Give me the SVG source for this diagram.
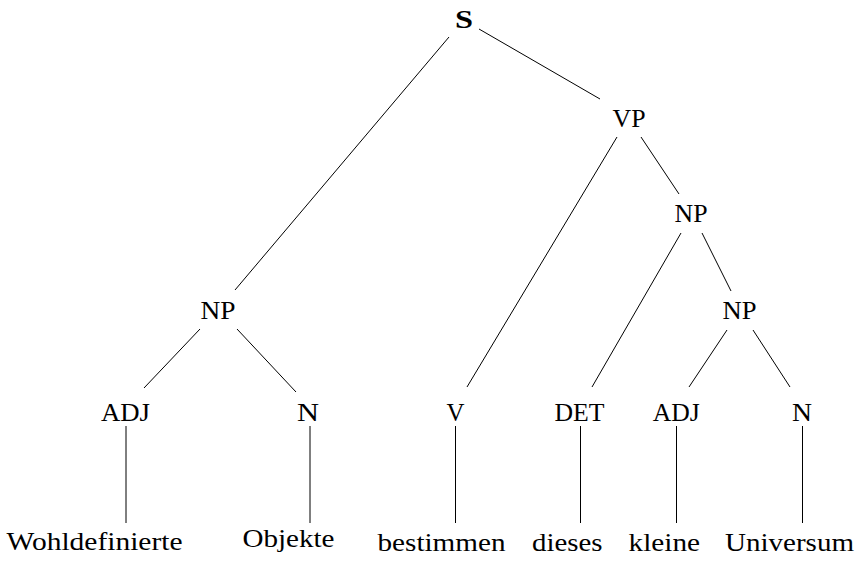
<svg xmlns="http://www.w3.org/2000/svg" width="858" height="561" viewBox="0 0 858 561" font-family="'Liberation Serif', 'Times New Roman', Times, serif">
  <style>
    text { font-family: 'Liberation Serif', 'Times New Roman', Times, serif; font-size: 26px; fill: #000; }
    .cat { text-anchor: middle; }
    .root { font-weight: bold; font-size: 26px; }
    .leaf { text-anchor: start; }
    #edges line { stroke: #000; stroke-width: 1; }
  </style>
  <rect width="858" height="561" fill="#fff"/>

  <!-- tree edges -->
  <g id="edges">
    <line x1="449" y1="37" x2="235" y2="290"/>
    <line x1="479" y1="29" x2="600" y2="99"/>
    <line x1="617" y1="137" x2="467" y2="387"/>
    <line x1="641" y1="137" x2="679" y2="194"/>
    <line x1="681" y1="233" x2="592" y2="387"/>
    <line x1="702" y1="233" x2="731" y2="291"/>
    <line x1="727" y1="330" x2="689" y2="387"/>
    <line x1="753" y1="330" x2="790" y2="387"/>
    <line x1="200" y1="329" x2="144" y2="388"/>
    <line x1="237" y1="329" x2="296" y2="392"/>
    <line x1="126" y1="426" x2="126" y2="523"/>
    <line x1="310" y1="426" x2="310" y2="523"/>
    <line x1="455.5" y1="426" x2="455.5" y2="523"/>
    <line x1="580.5" y1="426" x2="580.5" y2="523"/>
    <line x1="676.5" y1="426" x2="676.5" y2="523"/>
    <line x1="802.5" y1="426" x2="802.5" y2="523"/>
  </g>

  <!-- category nodes -->
  <g id="s"><text class="cat root" x="464" y="28" textLength="18" lengthAdjust="spacingAndGlyphs">S</text></g>
  <g id="vp"><text class="cat" x="629" y="126.5" textLength="33" lengthAdjust="spacingAndGlyphs">VP</text></g>
  <g id="np-obj"><text class="cat" x="691" y="222" textLength="33" lengthAdjust="spacingAndGlyphs">NP</text></g>
  <g id="np-inner"><text class="cat" x="739.5" y="319" textLength="34" lengthAdjust="spacingAndGlyphs">NP</text></g>
  <g id="np-subj"><text class="cat" x="218" y="319" textLength="35" lengthAdjust="spacingAndGlyphs">NP</text></g>
  <g id="adj-1"><text class="cat" x="125.5" y="421" textLength="49" lengthAdjust="spacingAndGlyphs">ADJ</text></g>
  <g id="n-1"><text class="cat" x="308" y="421" textLength="22" lengthAdjust="spacingAndGlyphs">N</text></g>
  <g id="v"><text class="cat" x="455.5" y="421" textLength="18" lengthAdjust="spacingAndGlyphs">V</text></g>
  <g id="det"><text class="cat" x="579.5" y="421" textLength="50" lengthAdjust="spacingAndGlyphs">DET</text></g>
  <g id="adj-2"><text class="cat" x="676.3" y="421" textLength="47" lengthAdjust="spacingAndGlyphs">ADJ</text></g>
  <g id="n-2"><text class="cat" x="802" y="421" textLength="20" lengthAdjust="spacingAndGlyphs">N</text></g>

  <!-- words -->
  <g id="w-wohldefinierte"><text class="leaf" x="6.5" y="550" textLength="176" lengthAdjust="spacingAndGlyphs">Wohldefinierte</text></g>
  <g id="w-objekte"><text class="leaf" x="242.5" y="547" textLength="92" lengthAdjust="spacingAndGlyphs">Objekte</text></g>
  <g id="w-bestimmen"><text class="leaf" x="377.5" y="550.5" textLength="128" lengthAdjust="spacingAndGlyphs">bestimmen</text></g>
  <g id="w-dieses"><text class="leaf" x="532" y="550.5" textLength="70.5" lengthAdjust="spacingAndGlyphs">dieses</text></g>
  <g id="w-kleine"><text class="leaf" x="628.5" y="550.5" textLength="71.5" lengthAdjust="spacingAndGlyphs">kleine</text></g>
  <g id="w-universum"><text class="leaf" x="725" y="550.5" textLength="129" lengthAdjust="spacingAndGlyphs">Universum</text></g>
</svg>
